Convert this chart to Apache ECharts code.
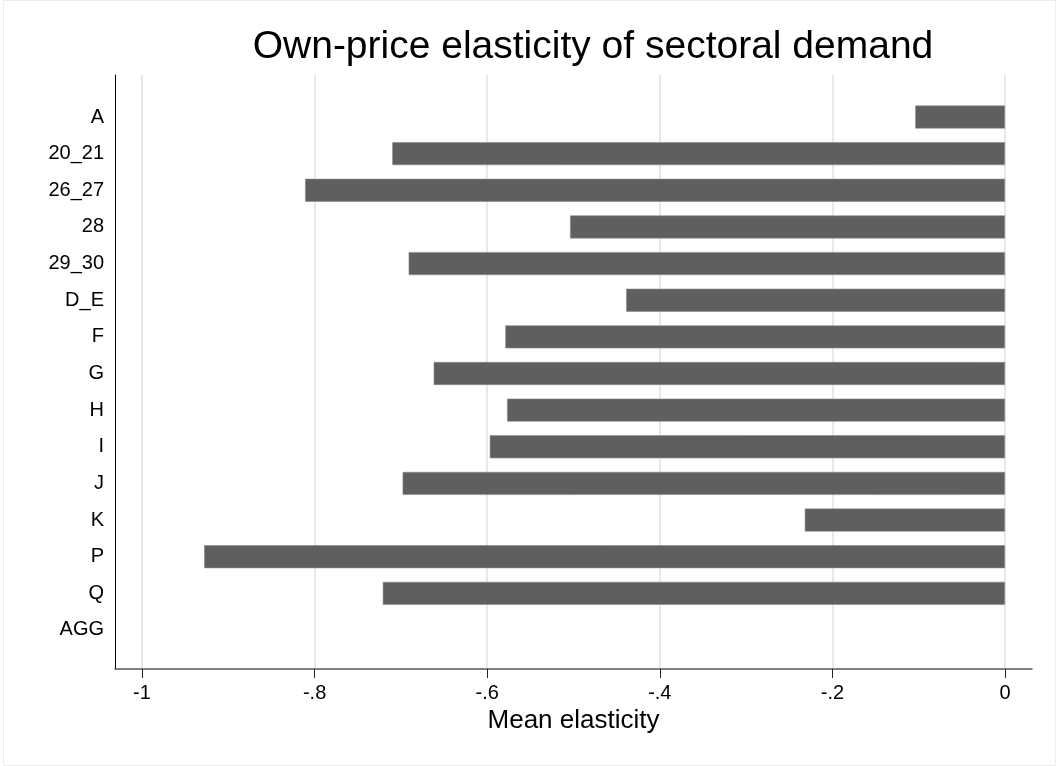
<!DOCTYPE html>
<html>
<head>
<meta charset="utf-8">
<script src="https://cdn.jsdelivr.net/npm/echarts@6/dist/echarts.min.js"></script>
<style>
html,body{margin:0;padding:0;background:#fff;}
#chart{width:1059px;height:766px;}
</style>
</head>
<body>
<div id="chart"></div>
<script>
var categories = ['A','20_21','26_27','28','29_30','D_E','F','G','H','I','J','K','P','Q','AGG'];
var meanElasticity = [-0.104,-0.710,-0.811,-0.504,-0.691,-0.439,-0.579,-0.662,-0.577,-0.597,-0.698,-0.232,-0.928,-0.721,null];
var xTicks = [-1,-0.8,-0.6,-0.4,-0.2,0];
var xTickLabels = ['-1','-.8','-.6','-.4','-.2','0'];
var titleText = 'Own-price elasticity of sectoral demand';
var xTitle = 'Mean elasticity';

var FONT = '"Liberation Sans", Arial, Helvetica, sans-serif';
var chart = echarts.init(document.getElementById('chart'), null, {renderer:'canvas'});
var pad = 27/863;
var option = {
  backgroundColor:'#ffffff',
  animation:false,
  graphic:[
    {type:'rect', shape:{x:3.5,y:0.5,width:1052,height:765}, style:{fill:'none',stroke:'#ededed',lineWidth:1}, silent:true, z:-10},
    {type:'text', x:593, y:47, style:{text:titleText, font:'39px '+FONT, fill:'#000', textAlign:'center', textVerticalAlign:'middle'}}
  ],
  grid:[
    {left:115, right:27, top:75, bottom:97},
    {left:142, right:54, top:75, bottom:97},
    {left:142, right:54, top:98.7, bottom:117.7}
  ],
  xAxis:[
    {gridIndex:0, type:'value', min:-1-pad, max:pad, axisLine:{show:true, onZero:false, lineStyle:{color:'#555555', width:1.5}}, axisTick:{show:false}, axisLabel:{show:false}, splitLine:{show:false}},
    {gridIndex:1, type:'value', min:-1, max:0, interval:0.2,
      axisLine:{show:false},
      axisTick:{show:true, length:9, lineStyle:{color:'#222', width:1}},
      axisLabel:{show:true, margin:14, fontSize:20, fontFamily:FONT, color:'#000',
        formatter:function(v){ for(var i=0;i<xTicks.length;i++){ if(Math.abs(v-xTicks[i])<1e-9) return xTickLabels[i]; } return ''; }},
      splitLine:{show:true, lineStyle:{color:'#e8e8e8', width:2}},
      name:xTitle, nameLocation:'middle', nameGap:37, nameTextStyle:{fontSize:26, fontFamily:FONT, color:'#000'}
    },
    {gridIndex:2, type:'value', min:-1, max:0, show:false}
  ],
  yAxis:[
    {gridIndex:0, type:'value', min:0, max:1, axisLine:{show:true, onZero:false, lineStyle:{color:'#000', width:1}}, axisTick:{show:false}, axisLabel:{show:false}, splitLine:{show:false}},
    {gridIndex:1, type:'value', show:false},
    {gridIndex:2, type:'category', inverse:true, data:categories,
      axisLine:{show:false}, axisTick:{show:false},
      axisLabel:{margin:38, fontSize:20, fontFamily:FONT, color:'#000'}, splitLine:{show:false}}
  ],
  series:[
    {type:'bar', xAxisIndex:2, yAxisIndex:2, data:meanElasticity, barWidth:23,
      itemStyle:{color:'#5f5f5f', borderColor:'#8c8c8c', borderWidth:0.6}}
  ]
};
chart.setOption(option);
</script>
</body>
</html>
